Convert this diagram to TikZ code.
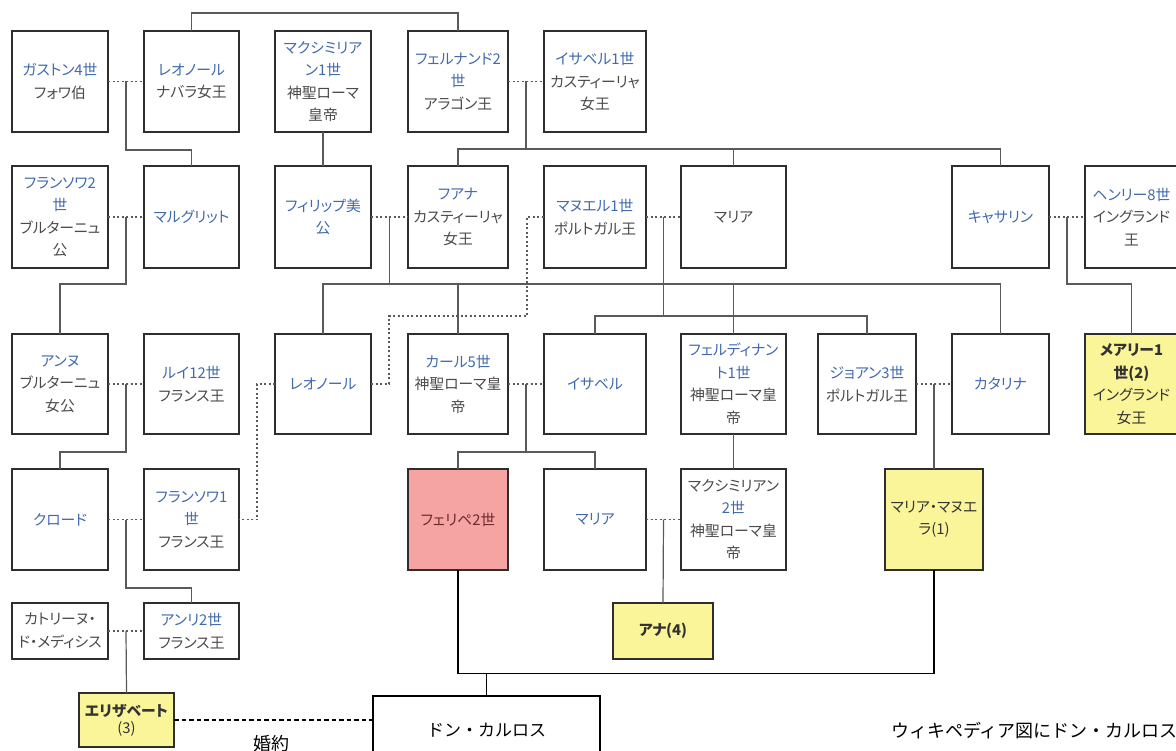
\documentclass[tikz,border=0pt]{standalone}
\usepackage{fontspec}
\newfontfamily\jp[RawFeature=+palt]{Noto Sans CJK JP}
\newfontfamily\jpw{Noto Sans CJK JP}
\usetikzlibrary{calc}
\definecolor{nameblue}{HTML}{3F6AAE}
\definecolor{titlegray}{HTML}{4A4A4A}
\definecolor{boxline}{HTML}{2E2E2E}
\definecolor{kinline}{HTML}{5A5A5A}
\definecolor{hlyellow}{HTML}{FBF59A}
\definecolor{hlpink}{HTML}{F5A3A3}
\definecolor{pinktext}{HTML}{6B2A2A}
\newcommand\nm[1]{\textcolor{nameblue}{#1}}
\begin{document}
\begin{tikzpicture}[x=1pt,y=-1pt,
 person/.style={draw=boxline, line width=2.8pt, fill=white, inner sep=0pt, outer sep=0pt,
   align=center, text=titlegray, font=\jp\fontsize{14.8}{22.5}\selectfont},
 kin/.style={draw=kinline, line width=1.2pt},
 kinb/.style={draw=black, line width=1.1pt},
 marry/.style={draw=kinline, line width=1.2pt, dash pattern=on 2pt off 2.5pt},
 engage/.style={draw=black, line width=1.1pt, dash pattern=on 4.5pt off 3pt},
 rowA/.style={minimum height=101},
 rowB/.style={minimum height=102},
 rowC/.style={minimum height=100},
 rowD/.style={minimum height=101},
 rowE/.style={minimum height=56},
 hly/.style={fill=hlyellow, text=black!80},
]
\useasboundingbox (0,0) rectangle (1176,751);
\clip (0,0) rectangle (1176,751);
\fill[white] (0,0) rectangle (1176,751);

% Row 1
\node[person,rowA,minimum width=96] (gaston) at (60,81.5) {\nm{ガストン4世}\\フォワ伯};
\node[person,rowA,minimum width=95] (leonorA) at (191.5,81.5) {\nm{レオノール}\\ナバラ女王};
\node[person,rowA,minimum width=96] (maxi) at (323,81.5) {\nm{マクシミリア}\\\nm{ン1世}\\神聖ローマ\\皇帝};
\node[person,rowA,minimum width=100] (fern) at (458,81.5) {\nm{フェルナンド2}\\\nm{世}\\アラゴン王};
\node[person,rowA,minimum width=102] (isab) at (595,81.5) {\nm{イサベル1世}\\カスティーリャ\\女王};

% Row 2
\node[person,rowB,minimum width=96] (franc2) at (60,217) {\nm{フランソワ2}\\\nm{世}\\ブルターニュ\\公};
\node[person,rowB,minimum width=95] (marg) at (191.5,217) {\nm{マルグリット}};
\node[person,rowB,minimum width=96] (phil) at (323,217) {\nm{フィリップ美}\\\nm{公}};
\node[person,rowB,minimum width=100] (juana) at (458,217) {\nm{フアナ}\\カスティーリャ\\女王};
\node[person,rowB,minimum width=102] (manuel) at (595,217) {\nm{マヌエル1世}\\ポルトガル王};
\node[person,rowB,minimum width=105] (mariaA) at (733.5,217) {マリア};
\node[person,rowB,minimum width=97] (cath) at (1000.5,217) {\nm{キャサリン}};
\node[person,rowB,minimum width=93] (henry) at (1131.5,217) {\nm{ヘンリー8世}\\イングランド\\王};

% Row 3
\node[person,rowC,minimum width=96] (anne) at (60,384) {\nm{アンヌ}\\ブルターニュ\\女公};
\node[person,rowC,minimum width=95] (louis) at (191.5,384) {\nm{ルイ12世}\\フランス王};
\node[person,rowC,minimum width=96] (leonorB) at (323,384) {\nm{レオノール}};
\node[person,rowC,minimum width=100] (karl) at (458,384) {\nm{カール5世}\\神聖ローマ皇\\帝};
\node[person,rowC,minimum width=102] (isabB) at (595,384) {\nm{イサベル}};
\node[person,rowC,minimum width=105] (ferd) at (733.5,384) {\nm{フェルディナン}\\\nm{ト1世}\\神聖ローマ皇\\帝};
\node[person,rowC,minimum width=98] (joao) at (867,384) {\nm{ジョアン3世}\\ポルトガル王};
\node[person,rowC,minimum width=97] (catalina) at (1000.5,384) {\nm{カタリナ}};
\node[person,rowC,hly,minimum width=93] (mary) at (1131.5,384) {\textbf{メアリー1}\\\textbf{世(2)}\\イングランド\\女王};

% Row 4
\node[person,rowD,minimum width=96] (claude) at (60,519.5) {\nm{クロード}};
\node[person,rowD,minimum width=95] (franc1) at (191.5,519.5) {\nm{フランソワ1}\\\nm{世}\\フランス王};
\node[person,rowD,minimum width=100,fill=hlpink,text=pinktext] (felipe) at (458,519.5) {フェリペ2世};
\node[person,rowD,minimum width=102] (mariaB) at (595,519.5) {\nm{マリア}};
\node[person,rowD,minimum width=105] (max2) at (733.5,519.5) {マクシミリアン\\\nm{2世}\\神聖ローマ皇\\帝};
\node[person,rowD,hly,minimum width=98] (mm) at (934,519.5) {マリア・マヌエ\\ラ(1)};

% Row 5
\node[person,rowE,minimum width=96] (cat) at (60,631) {カトリーヌ・\\ド・メディシス};
\node[person,rowE,minimum width=95] (henri) at (191.5,631) {\nm{アンリ2世}\\フランス王};
\node[person,rowE,hly,minimum width=100] (ana) at (663,631) {\textbf{アナ(4)}};
\node[person,hly,minimum width=95,minimum height=54,font=\jp\fontsize{14.8}{17}\selectfont] (elis) at (126.5,720) {\textbf{エリザベート}\\(3)};
\node[draw=black, line width=2.2pt, fill=white, inner sep=0pt, outer sep=0pt,
  minimum width=227, minimum height=68, font=\jpw\fontsize{17}{20}\selectfont] (carlos) at (486.5,730) {ドン・カルロス};

% marriage midpoints
\coordinate (m1) at ($(gaston.east)!.5!(leonorA.west)$);
\coordinate (m2) at ($(fern.east)!.5!(isab.west)$);
\coordinate (m3) at ($(franc2.east)!.5!(marg.west)$);
\coordinate (m4) at ($(phil.east)!.5!(juana.west)$);
\coordinate (m5) at ($(manuel.east)!.5!(mariaA.west)$);
\coordinate (m6) at ($(cath.east)!.5!(henry.west)$);
\coordinate (m7) at ($(anne.east)!.5!(louis.west)$);
\coordinate (m8) at ($(karl.east)!.5!(isabB.west)$);
\coordinate (m9) at ($(joao.east)!.5!(catalina.west)$);
\coordinate (m10) at ($(claude.east)!.5!(franc1.west)$);
\coordinate (m11) at ($(mariaB.east)!.5!(max2.west)$);
\coordinate (m12) at ($(cat.east)!.5!(henri.west)$);

% marriages (dotted)
\draw[marry] (gaston.east) -- (leonorA.west);
\draw[marry] (fern.east) -- (isab.west);
\draw[marry] (franc2.east) -- (marg.west);
\draw[marry] (phil.east) -- (juana.west);
\draw[marry] (manuel.east) -- (mariaA.west);
\draw[marry] (cath.east) -- (henry.west);
\draw[marry] (anne.east) -- (louis.west);
\draw[marry] (karl.east) -- (isabB.west);
\draw[marry] (joao.east) -- (catalina.west);
\draw[marry] (claude.east) -- (franc1.west);
\draw[marry] (mariaB.east) -- (max2.west);
\draw[marry] (cat.east) -- (henri.west);
\draw[marry] (leonorB.east) -- ++(18,0) -- ++(0,-68) -| ($(manuel.west)+(-17,0)$) -- (manuel.west);
\draw[marry] (leonorB.west) -- ++(-18,0) |- (franc1.east);

% descent lines
\draw[kin] (leonorA.north) -- ++(0,-18) -| (fern.north);
\draw[kin] (m1) -- ++(0,68.5) -| (marg.north);
\draw[kin] (maxi.south) -- (phil.north);
\draw[kin] (m2) -- ++(0,67.5);
\draw[kin] (juana.north) -- ++(0,-17) -| (cath.north);
\draw[kin] (mariaA.north) -- ++(0,-17);
\draw[kin] (m3) -- ++(0,67) -| (anne.north);
\draw[kin] (m4) -- ++(0,67);
\draw[kin] (leonorB.north) -- ++(0,-50) -| (catalina.north);
\draw[kin] (karl.north) -- ++(0,-50);
\draw[kin] (ferd.north) -- ++(0,-50);
\draw[kin] (m5) -- ++(0,99);
\draw[kin] (isabB.north) -- ++(0,-18) -| (joao.north);
\draw[kin] (m6) -- ++(0,67) -| (mary.north);
\draw[kin] (m7) -- ++(0,68) -| (claude.north);
\draw[kin] (m8) -- ++(0,68);
\draw[kin] (felipe.north) -- ++(0,-17) -| (mariaB.north);
\draw[kin] (ferd.south) -- (max2.north);
\draw[kin] (m9) -- (mm.north);
\draw[kin] (m10) -- ++(0,68.5) -| (henri.north);
\draw[kin] (m11) -- (ana.north);
\draw[kin] (m12) -- (elis.north);
\draw[kinb] (felipe.south) -- ++(0,103.5) -| (mm.south);
\draw[kinb] (carlos.north) -- ++(0,-23);
\draw[engage] (elis.east) -- (elis.east -| carlos.west);

% labels
\node[font=\jpw\fontsize{18}{20}\selectfont, text=black, inner sep=0pt] (engl) at (271,744) {婚約};
\node[font=\jpw\fontsize{18}{20}\selectfont, text=black, inner sep=0pt, anchor=west] (note) at (891,731) {ウィキペディア図にドン・カルロス};
\end{tikzpicture}
\end{document}
